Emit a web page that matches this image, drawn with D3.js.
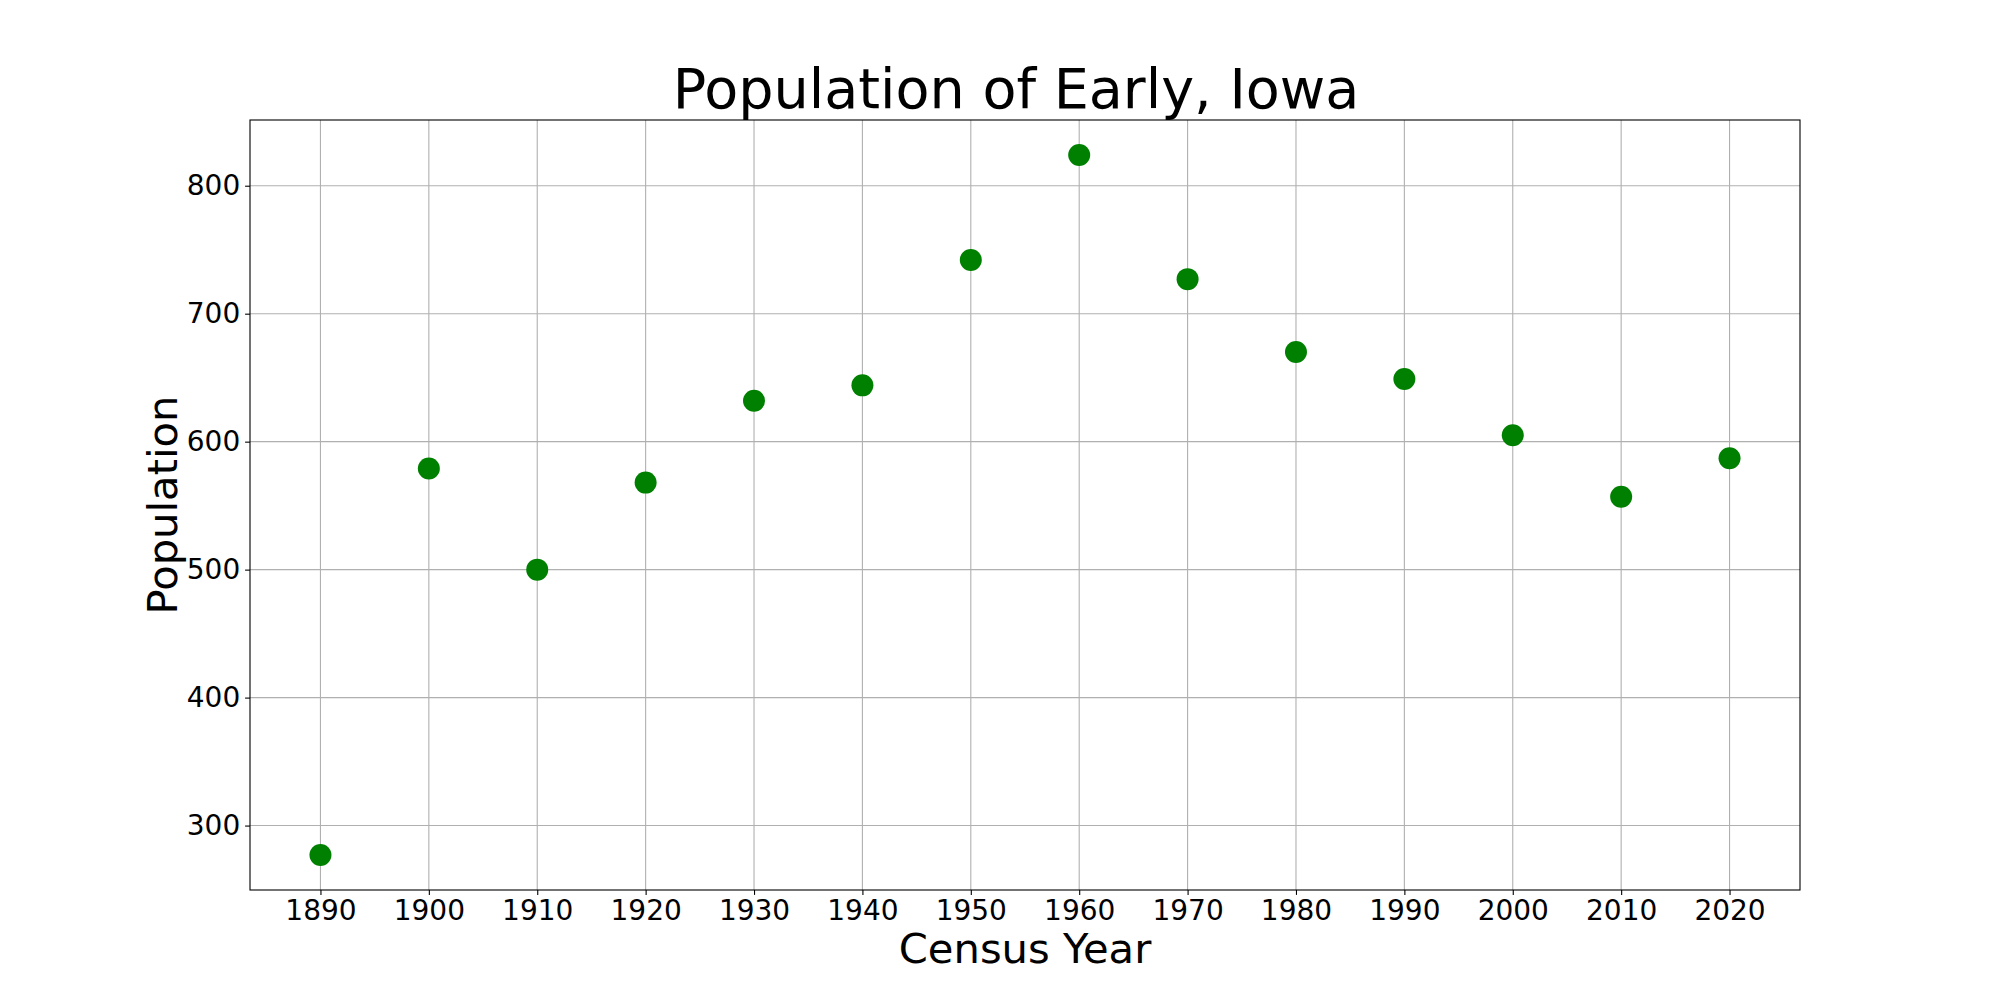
<!DOCTYPE html>
<html>
<head>
<meta charset="utf-8">
<script src="https://cdn.jsdelivr.net/npm/d3@7"></script>
<style>
  body { margin: 0; background: #fff; }
  text { font-family: "DejaVu Sans", sans-serif; }
</style>
</head>
<body>
<svg></svg>
<script>
// census data
const years = [1890, 1900, 1910, 1920, 1930, 1940, 1950, 1960, 1970, 1980, 1990, 2000, 2010, 2020];
const population = [277, 579, 500, 568, 632, 644, 742, 824, 727, 670, 649, 605, 557, 587];
const xTicks = [1890, 1900, 1910, 1920, 1930, 1940, 1950, 1960, 1970, 1980, 1990, 2000, 2010, 2020];
const yTicks = [300, 400, 500, 600, 700, 800];

const W = 2000, H = 1000;
const mLeft = 250, mRight = 1800, mTop = 120, mBottom = 890;

const svg = d3.select('svg')
    .attr('width', W)
    .attr('height', H);

// matplotlib style 5% margins
const xExt = d3.extent(years), yExt = d3.extent(population);
const xPad = (xExt[1] - xExt[0]) * 0.05, yPad = (yExt[1] - yExt[0]) * 0.05;

const x = d3.scaleLinear()
    .domain([xExt[0] - xPad, xExt[1] + xPad])
    .range([mLeft, mRight]);

const y = d3.scaleLinear()
    .domain([yExt[0] - yPad, yExt[1] + yPad])
    .range([mBottom, mTop]);

// grid
svg.append('g')
    .selectAll('line')
    .data(xTicks)
    .join('line')
    .attr('x1', d => x(d)).attr('x2', d => x(d))
    .attr('y1', mTop).attr('y2', mBottom)
    .attr('stroke', '#b0b0b0')
    .attr('stroke-width', 1.1);

svg.append('g')
    .selectAll('line')
    .data(yTicks)
    .join('line')
    .attr('x1', mLeft).attr('x2', mRight)
    .attr('y1', d => y(d)).attr('y2', d => y(d))
    .attr('stroke', '#b0b0b0')
    .attr('stroke-width', 1.1);

// axes
const xAxis = svg.append('g')
    .attr('transform', `translate(0,${mBottom})`)
    .call(d3.axisBottom(x).tickValues(xTicks).tickFormat(d3.format('d')).tickSize(4.9).tickPadding(4.9).tickSizeOuter(0));

const yAxis = svg.append('g')
    .attr('transform', `translate(${mLeft},0)`)
    .call(d3.axisLeft(y).tickValues(yTicks).tickSize(4.9).tickPadding(4.9).tickSizeOuter(0));

[xAxis, yAxis].forEach(a => {
    a.select('.domain').remove();
    a.selectAll('.tick line').attr('stroke', '#000').attr('stroke-width', 1.1);
    a.selectAll('.tick text')
        .attr('font-family', '"DejaVu Sans", sans-serif')
        .attr('font-size', 28)
        .attr('fill', '#000');
});

// frame
svg.append('rect')
    .attr('x', mLeft)
    .attr('y', mTop)
    .attr('width', mRight - mLeft)
    .attr('height', mBottom - mTop)
    .attr('fill', 'none')
    .attr('stroke', '#000')
    .attr('stroke-width', 1.1);

// points
svg.append('g')
    .selectAll('circle')
    .data(years)
    .join('circle')
    .attr('cx', d => x(d))
    .attr('cy', (d, i) => y(population[i]))
    .attr('r', 11)
    .attr('fill', 'green');

// labels
svg.append('text')
    .text('Population of Early, Iowa')
    .attr('x', (mLeft + mRight) / 2 - 9)
    .attr('y', 108)
    .attr('text-anchor', 'middle')
    .attr('font-size', 55.6);

svg.append('text')
    .text('Census Year')
    .attr('x', (mLeft + mRight) / 2)
    .attr('y', 963)
    .attr('text-anchor', 'middle')
    .attr('font-size', 41.7);

svg.append('text')
    .text('Population')
    .attr('transform', `translate(177,${(mTop + mBottom) / 2}) rotate(-90)`)
    .attr('text-anchor', 'middle')
    .attr('font-size', 41.7);
</script>
</body>
</html>
